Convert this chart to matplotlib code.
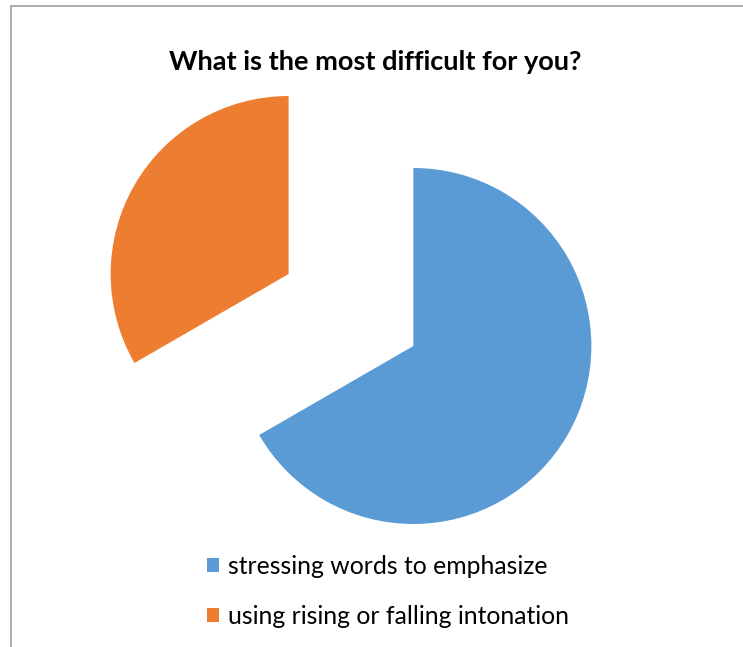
import matplotlib.pyplot as plt
from matplotlib.patches import Patch, Rectangle

# chart data
labels = ['stressing words to emphasize', 'using rising or falling intonation']
values = [2, 1]
colors = ['#5B9BD5', '#ED7D31']
title = 'What is the most difficult for you?'

W, H = 743, 647
fig = plt.figure(figsize=(W / 100, H / 100), dpi=100)
plt.rcParams['font.family'] = ['Lato', 'DejaVu Sans']

# chart area border (only left and top edges visible in the crop)
fig.patches.append(Rectangle((10.5 / W, -0.1), 1.2, 1 - 5.5 / H + 0.1,
                             transform=fig.transFigure, fill=False,
                             edgecolor='#A6A6A6', linewidth=1.3))

ax = fig.add_axes([0, 0, 1, 1])

r = 178
ax.pie(values, colors=colors, startangle=90, counterclock=False,
       radius=r, center=(351, H - 310), explode=[72, 72],
       wedgeprops={'linewidth': 0}, frame=True)
ax.set_xlim(0, W)
ax.set_ylim(0, H)
ax.set_aspect('equal')
ax.axis('off')

fig.text(375 / W, 1 - 62 / H, title, ha='center', va='center',
         fontsize=19.5, fontweight='bold')

handles = [Patch(facecolor=c, edgecolor='none') for c in colors]
fig.legend(handles, labels, loc='upper left', bbox_to_anchor=(207 / W, 1 - 555 / H),
           frameon=False, fontsize=17.8, handlelength=0.5, handleheight=0.5,
           handletextpad=0.35, labelspacing=1.1, borderpad=0, borderaxespad=0)

fig.savefig('out.png', dpi=100)
